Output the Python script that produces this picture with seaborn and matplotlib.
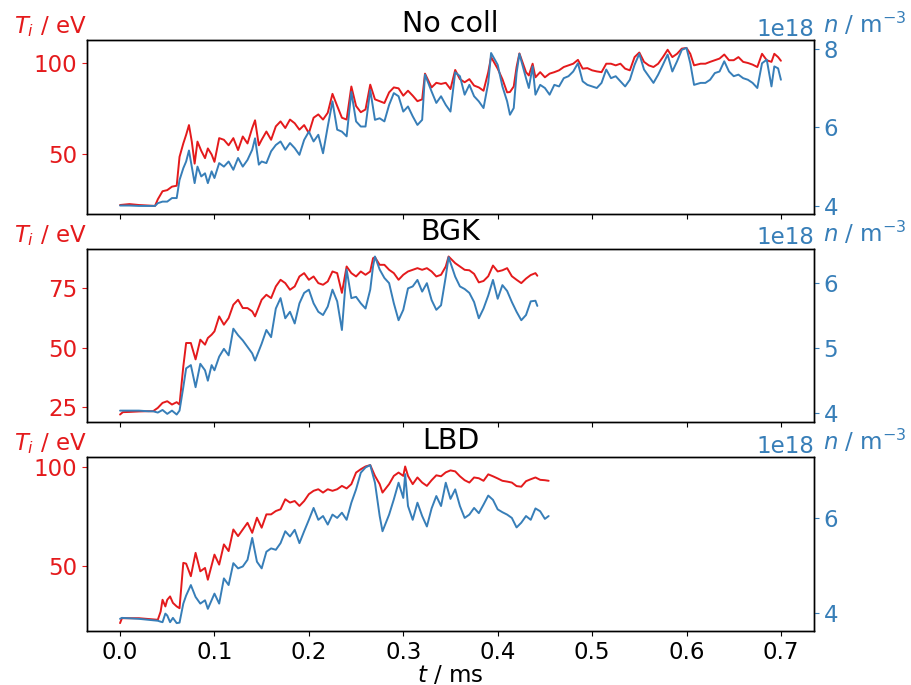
import numpy as np
import matplotlib
matplotlib.use("Agg")
import matplotlib.pyplot as plt
import seaborn as sns

RED = "#e41a1c"
BLUE = "#377eb8"

# ---- No collisions ----
t_nocoll = [0.0, 0.01, 0.02, 0.03, 0.037, 0.04, 0.045, 0.05, 0.055, 0.06,
            0.063, 0.067, 0.07, 0.073, 0.076, 0.079, 0.082, 0.086, 0.09, 0.093,
            0.097, 0.1, 0.105, 0.11, 0.115, 0.12, 0.125, 0.13, 0.135, 0.14,
            0.143, 0.147, 0.15,
            0.155, 0.16, 0.165, 0.17, 0.175, 0.18, 0.185, 0.19, 0.195, 0.2,
            0.205, 0.21, 0.215, 0.22, 0.225, 0.23, 0.235, 0.24, 0.245, 0.25,
            0.255, 0.26, 0.265, 0.27, 0.275, 0.28, 0.285, 0.29, 0.295, 0.3,
            0.305, 0.31, 0.315, 0.32,
            0.323,
            0.33, 0.335, 0.34, 0.345, 0.35, 0.355, 0.36, 0.365, 0.37, 0.375,
            0.38, 0.385, 0.39,
            0.393, 0.4, 0.405, 0.41, 0.413, 0.417, 0.42, 0.423, 0.43, 0.433,
            0.437, 0.44,
            0.445, 0.45, 0.455, 0.46, 0.465, 0.47, 0.475, 0.48, 0.485, 0.49,
            0.495, 0.5, 0.505, 0.51, 0.515, 0.52, 0.525, 0.53, 0.535, 0.54,
            0.545, 0.55, 0.555, 0.56, 0.565, 0.57, 0.575, 0.58, 0.585, 0.59,
            0.595, 0.6,
            0.604, 0.608,
            0.615, 0.62, 0.625, 0.63, 0.635, 0.64, 0.645, 0.65, 0.655, 0.66,
            0.665, 0.67, 0.675, 0.68, 0.685, 0.69,
            0.693, 0.697, 0.7]
Ti_nocoll = [22.5, 23.0, 22.5, 22.2, 22.0, 25.6, 30.0, 30.6, 32.5, 33.0,
             48.7, 56.0, 60.7, 66.0, 57.0, 45.0, 57.0, 52.0, 48.0, 53.3,
             50.0, 46.0, 58.9, 58.0, 55.0, 58.9, 52.4, 59.8, 56.0, 64.4,
             68.6, 55.0, 58.0,
             62.5, 58.0, 65.3, 68.0, 64.4, 69.0, 67.0, 63.5, 66.0, 61.6,
             70.0, 71.8, 69.0, 72.7, 83.0, 76.4, 70.0, 69.0, 87.0, 76.4,
             73.0, 74.5, 88.0, 80.0, 79.0, 78.0, 83.8, 86.5, 86.0, 82.0,
             84.7, 82.0, 79.0, 80.0,
             94.0,
             86.5, 89.0, 88.4, 89.0, 85.6, 96.0, 91.0, 89.3, 91.0, 87.5,
             86.5, 84.7, 94.8,
             103.0, 96.7, 91.0, 83.8, 84.0, 87.0, 97.6, 105.0, 94.8, 93.0,
             99.4, 92.0,
             94.8, 92.0, 94.0, 94.8, 95.8, 97.6, 98.5, 99.4, 101.5, 96.7,
             97.0, 95.8, 95.2, 94.8, 99.4, 99.4, 98.5, 99.4, 96.7, 95.8,
             103.0, 105.5, 100.4, 98.5, 97.6, 99.4, 103.0, 107.0, 103.0, 104.8,
             107.6, 108.0,
             104.8, 98.5,
             99.4, 99.4, 100.4, 101.3, 102.2, 104.4, 101.3, 101.3, 103.0, 100.4,
             99.8, 98.9, 97.6, 104.8, 101.3, 100.4,
             104.8, 103.0, 101.0]
n_nocoll = [4.01, 4.01, 4.00, 4.00, 4.00, 4.07, 4.11, 4.11, 4.20, 4.20,
            4.66, 4.96, 5.13, 5.41, 5.00, 4.58, 5.00, 4.75, 4.83, 4.58,
            4.88, 4.71, 5.09, 5.00, 5.13, 4.92, 5.22, 5.00, 5.17, 5.43,
            5.72, 5.05, 5.13,
            5.09, 5.39, 5.55, 5.64, 5.43, 5.60, 5.47, 5.30, 5.68, 5.89,
            5.64, 5.81, 5.34, 6.02, 6.66, 5.94, 5.89, 5.77, 6.90, 6.15,
            6.02, 6.02, 6.95, 6.19, 6.23, 6.15, 6.57, 6.87, 6.79, 6.40,
            6.53, 6.28, 6.06, 6.19,
            7.34,
            6.91, 6.62, 6.79, 6.57, 6.40, 7.40, 7.30, 6.83, 7.08, 6.79,
            6.66, 6.49, 7.13,
            7.89, 7.59, 7.04, 6.66, 6.32, 6.49, 7.38, 7.87, 7.25, 7.00,
            7.55, 6.83,
            7.08, 7.00, 6.83, 7.08, 7.04, 7.25, 7.30, 7.42, 7.63, 7.17,
            7.08, 7.04, 7.00, 7.13, 7.47, 7.25, 7.30, 7.17, 7.04, 7.21,
            7.59, 7.87, 7.47, 7.30, 7.13, 7.34, 7.59, 7.85, 7.42, 7.68,
            7.97, 8.02,
            7.63, 7.08,
            7.13, 7.13, 7.21, 7.38, 7.42, 7.68, 7.42, 7.30, 7.34, 7.25,
            7.21, 7.13, 7.00, 7.63, 7.72, 7.04,
            7.55, 7.50, 7.21]

# ---- BGK ----
t_bgk = [0.0, 0.003, 0.01, 0.02, 0.03, 0.035, 0.04, 0.045, 0.05, 0.055,
         0.06, 0.063, 0.067, 0.07, 0.075, 0.08, 0.085, 0.09, 0.093, 0.097,
         0.1, 0.105, 0.11, 0.115, 0.12, 0.125, 0.13, 0.135, 0.14, 0.143,
         0.15, 0.155, 0.16, 0.165, 0.17, 0.175, 0.18, 0.185, 0.19, 0.195,
         0.2, 0.205, 0.21, 0.215, 0.22, 0.225, 0.23, 0.235, 0.24, 0.245,
         0.25, 0.255, 0.26, 0.265, 0.268, 0.27, 0.275, 0.28, 0.285, 0.29,
         0.295, 0.3, 0.305, 0.31, 0.315, 0.32, 0.325, 0.33, 0.335, 0.34,
         0.345, 0.348, 0.355, 0.36, 0.365, 0.37, 0.375, 0.38, 0.385, 0.39,
         0.395, 0.4, 0.405, 0.41, 0.415, 0.42, 0.425, 0.43, 0.435, 0.44,
         0.442]
Ti_bgk = [21.8, 22.8, 22.9, 23.1, 23.2, 23.2, 24.6, 26.7, 27.4, 26.0,
          27.0, 26.0, 42.0, 51.9, 51.9, 45.0, 53.3, 51.2, 54.0, 55.4,
          56.8, 63.1, 59.6, 62.4, 68.0, 70.1, 66.6, 66.6, 65.2, 63.1,
          70.1, 72.2, 70.8, 75.7, 78.5, 77.1, 74.3, 75.7, 79.9, 81.3,
          78.5, 79.9, 77.1, 76.4, 77.8, 82.0, 81.3, 73.0, 84.1, 81.3,
          79.9, 82.0, 80.6, 82.0, 87.6, 88.0, 84.8, 84.8, 82.7, 81.3,
          78.5, 80.6, 82.0, 82.7, 83.4, 82.7, 83.4, 82.0, 79.9, 80.6,
          84.1, 88.3, 85.5, 84.1, 82.7, 82.5, 81.0, 77.4, 78.0, 80.0,
          84.5, 82.0, 82.5, 83.4, 80.0, 78.5, 77.1, 79.0, 80.5, 81.3,
          80.2]
n_bgk = [4.03, 4.03, 4.03, 4.03, 4.02, 4.02, 4.00, 4.04, 3.98, 4.03,
         3.97, 4.03, 4.39, 4.68, 4.73, 4.39, 4.75, 4.65, 4.49, 4.73,
         4.65, 4.86, 4.98, 4.88, 5.29, 5.19, 5.11, 5.01, 4.91, 4.80,
         5.06, 5.27, 5.16, 5.60, 5.76, 5.45, 5.55, 5.37, 5.68, 5.84,
         5.89, 5.68, 5.55, 5.50, 5.63, 5.89, 5.71, 5.27, 6.20, 5.76,
         5.78, 5.68, 5.60, 5.89, 6.25, 6.40, 6.20, 6.07, 5.99, 5.68,
         5.42, 5.58, 5.91, 5.94, 6.04, 5.86, 5.99, 5.73, 5.58, 5.65,
         6.09, 6.39, 6.09, 5.94, 5.90, 5.84, 5.70, 5.45, 5.60, 5.80,
         6.04, 5.75, 5.96, 5.87, 5.70, 5.55, 5.42, 5.50, 5.71, 5.72,
         5.64]

# ---- LBD ----
t_lbd = [0.0, 0.002, 0.02, 0.04, 0.043, 0.045, 0.048, 0.05, 0.053, 0.056,
         0.06, 0.063, 0.067, 0.07, 0.075, 0.08, 0.085, 0.09, 0.093, 0.1,
         0.105, 0.11, 0.115, 0.12, 0.125, 0.13, 0.135, 0.14, 0.145, 0.15,
         0.155, 0.16, 0.165, 0.17, 0.175, 0.18, 0.185, 0.19, 0.195, 0.2,
         0.205, 0.21, 0.215, 0.22, 0.225, 0.23, 0.235, 0.24, 0.245, 0.25,
         0.255, 0.26, 0.265, 0.27, 0.275, 0.278, 0.285, 0.29, 0.295, 0.3,
         0.302, 0.305, 0.31, 0.315, 0.32, 0.325, 0.33, 0.335, 0.34, 0.345,
         0.35, 0.355, 0.36, 0.365, 0.37, 0.375, 0.38, 0.385, 0.39, 0.395,
         0.4, 0.405, 0.41, 0.415, 0.42, 0.425, 0.43, 0.435, 0.44, 0.445,
         0.45, 0.454]
Ti_lbd = [20.7, 23.2, 23.2, 22.4, 26.6, 32.6, 29.2, 32.6, 34.3, 31.0,
          29.2, 28.3, 51.4, 51.0, 44.6, 56.5, 47.1, 48.8, 42.8, 55.6,
          50.5, 60.8, 57.4, 68.4, 65.0, 68.4, 71.8, 66.7, 74.4, 69.3,
          76.1, 76.1, 77.8, 78.7, 83.8, 82.1, 82.9, 80.4, 82.9, 86.4,
          88.1, 88.9, 87.2, 88.9, 88.1, 88.9, 90.6, 89.3, 91.5, 97.4,
          99.1, 100.5, 101.2, 95.7, 91.5, 87.2, 91.5, 95.7, 97.4, 95.7,
          100.5, 95.7, 91.5, 94.9, 92.3, 90.6, 93.5, 96.0, 95.5, 97.5,
          98.5, 98.0, 95.5, 93.5, 92.3, 94.9, 94.5, 93.2, 96.5, 95.5,
          94.4, 93.2, 92.8, 92.3, 90.5, 90.2, 93.0, 94.0, 94.9, 93.7,
          93.5, 93.2]
n_lbd = [3.88, 3.90, 3.88, 3.84, 3.82, 3.81, 3.99, 3.95, 3.81, 3.90,
         3.79, 3.80, 4.20, 4.37, 4.59, 4.34, 4.20, 4.27, 4.09, 4.41,
         4.20, 4.73, 4.59, 5.05, 4.94, 4.98, 5.12, 5.58, 5.08, 4.94,
         5.29, 5.36, 5.33, 5.47, 5.72, 5.61, 5.75, 5.47, 5.72, 5.96,
         6.21, 5.96, 6.04, 5.86, 6.07, 6.00, 6.11, 5.96, 6.32, 6.60,
         6.95, 7.06, 7.11, 6.74, 6.04, 5.72, 6.07, 6.39, 6.74, 6.42,
         6.92, 6.25, 5.96, 6.32, 6.04, 5.82, 6.20, 6.46, 6.25, 6.74,
         6.40, 6.60, 6.25, 6.00, 6.07, 6.21, 6.10, 6.28, 6.47, 6.38,
         6.18, 6.12, 6.07, 6.00, 5.80, 5.90, 6.04, 5.96, 6.20, 6.14,
         5.98, 6.04]

titles = ["No coll", "BGK", "LBD"]
runs = [(t_nocoll, Ti_nocoll, n_nocoll),
        (t_bgk, Ti_bgk, n_bgk),
        (t_lbd, Ti_lbd, n_lbd)]
N_UNIT = 1e18  # densities above are in units of 1e18 m^-3

sns.set_style("ticks")
plt.rcParams.update({
    "font.family": ["DejaVu Sans"],
    "font.size": 16.5,
    "xtick.labelsize": 16.5,
    "ytick.labelsize": 16.5,
    "axes.labelsize": 16.5,
    "axes.titlesize": 20.5,
    "axes.edgecolor": "black",
    "axes.labelcolor": "black",
    "text.color": "black",
    "xtick.color": "black",
    "ytick.color": "black",
    "xtick.major.size": 3.5,
    "ytick.major.size": 3.5,
    "xtick.major.width": 0.8,
    "ytick.major.width": 0.8,
    "axes.linewidth": 1.0,
})

fig, axes = plt.subplots(3, 1, figsize=(9.12, 6.85), dpi=100, sharex=True)
fig.subplots_adjust(left=0.0954, right=0.8925, top=0.9416, bottom=0.0788,
                    hspace=0.2)

for ax, title, (t, Ti, n) in zip(axes, titles, runs):
    assert len(t) == len(Ti) == len(n)
    t = np.asarray(t)
    sns.lineplot(x=t, y=np.asarray(Ti), ax=ax, color=RED, linewidth=1.4)
    ax.set_title(title, color="black")
    ax.tick_params(axis="y", colors=RED)
    ax.set_ylabel("$T_i$ / eV", color=RED, rotation=0, ha="center",
                  va="baseline")
    ax.yaxis.set_label_coords(-0.051, 1.04)

    ax2 = ax.twinx()
    sns.lineplot(x=t, y=np.asarray(n) * N_UNIT, ax=ax2, color=BLUE,
                 linewidth=1.4)
    ax2.tick_params(axis="y", colors=BLUE)
    ax2.yaxis.get_offset_text().set_color(BLUE)
    ax2.set_ylabel("$n$ / m$^{-3}$", color=BLUE, rotation=0, ha="center",
                   va="baseline")
    ax2.yaxis.set_label_coords(1.07, 1.04)

axes[-1].set_xlabel("$t$ / ms", labelpad=0)

fig.savefig("out.png", dpi=100)
